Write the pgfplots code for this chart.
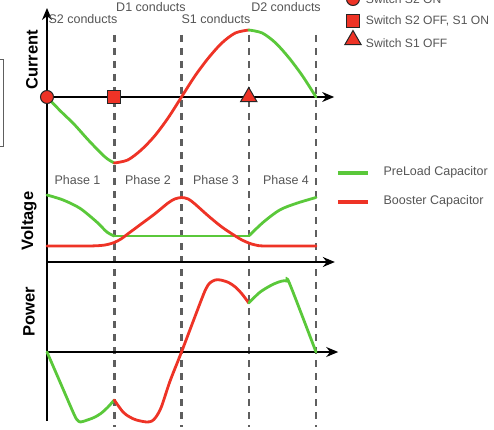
\documentclass[border=0pt]{standalone}
\usepackage{pgfplots}
\pgfplotsset{compat=1.18}
\usepackage{fontspec}
\setmainfont{Liberation Sans}
\usetikzlibrary{arrows.meta}
\definecolor{cgreen}{HTML}{5AC83A}
\definecolor{cred}{HTML}{EE3326}
\definecolor{cgray}{HTML}{5E5E5E}
\definecolor{ctext}{HTML}{555555}
\tikzset{lbl/.style={text=ctext, font=\fontsize{12.5}{14}\selectfont},
  lbls/.style={text=ctext, font=\fontsize{12.1}{14}\selectfont, inner sep=0pt},
  ylab/.style={rotate=90, font=\bfseries\fontsize{16.5}{18}\selectfont}}
\begin{document}
\begin{tikzpicture}
\useasboundingbox (0pt,0pt) rectangle (494pt,429pt);
\clip (0pt,0pt) rectangle (494pt,429pt);
\begin{axis}[at={(0pt,0pt)}, anchor=south west, scale only axis,
  width=494pt, height=429pt,
  xmin=-0.69888, xmax=6.64684, ymin=0, ymax=429,
  hide axis, clip=false]
% dashed phase separators
\addplot[cgray, line width=2.5pt, dash pattern=on 7pt off 6pt] coordinates {(1,394) (1,2)};
\addplot[cgray, line width=2.5pt, dash pattern=on 7pt off 6pt] coordinates {(2,394) (2,2)};
\addplot[cgray, line width=2.5pt, dash pattern=on 7pt off 6pt] coordinates {(3,394) (3,2)};
\addplot[cgray, line width=2.5pt, dash pattern=on 7pt off 6pt] coordinates {(4,394) (4,2)};
% axes
\addplot[black, line width=1.4pt, -{Stealth[length=12pt,width=10pt]}] coordinates {(0,8) (0,421)};
\addplot[black, line width=1.4pt, -{Stealth[length=12pt,width=10pt]}] coordinates {(0,332) (4.27,332)};
\addplot[black, line width=1.4pt, -{Stealth[length=12pt,width=10pt]}] coordinates {(0,167) (4.28,167)};
\addplot[black, line width=1.4pt, -{Stealth[length=12pt,width=10pt]}] coordinates {(0,77) (4.33,77)};
% left box (cropped)
\addplot[cgray, line width=0.8pt] coordinates {(-0.8,370) (-0.654,370) (-0.654,283) (-0.8,283)};
% ---- current
\addplot[cgreen, line width=2.8pt, smooth, line cap=round] coordinates {
 (0,332) (0.2,318) (0.4,305) (0.6,290) (0.8,276) (0.9,270) (1,266)};
\addplot[cred, line width=2.8pt, smooth, line cap=round] coordinates {
 (1,266) (1.2,269) (1.4,279) (1.6,293) (1.8,311) (2,332) (2.2,353) (2.4,371) (2.6,386) (2.8,396) (3,399)};
\addplot[cgreen, line width=2.8pt, smooth, line cap=round] coordinates {
 (3,399) (3.2,396) (3.4,386) (3.6,371) (3.8,353) (4,332)};
% ---- voltage
\addplot[cgreen, line width=2.8pt, smooth, line cap=round] coordinates {
 (0,234) (0.24,229) (0.49,220.7) (0.74,207) (0.89,197) (1,193)};
\addplot[cgreen, line width=2.8pt] coordinates {(1,193) (3,193)};
\addplot[cgreen, line width=2.8pt, smooth, line cap=round] coordinates {
 (3,193) (3.22,207) (3.46,219) (3.71,225.7) (4,231.5)};
\addplot[cred, line width=2.8pt, smooth, tension=0.5, line cap=round] coordinates {
 (0,183) (0.6,183) (0.8,183.5) (0.9,184.5) (1,186.5) (1.1,190) (1.2,195) (1.4,205) (1.6,215) (1.8,226) (1.9,230) (2,231.5)
 (2.1,230) (2.2,225) (2.4,213) (2.6,202) (2.8,193) (2.9,189) (3,186) (3.1,184) (3.25,183) (4,183)};
% ---- power
\addplot[cgreen, line width=2.8pt, smooth, tension=0.5, line cap=round] coordinates {
 (0,77) (0.2,46) (0.4,15) (0.45,9) (0.5,7) (0.6,9) (0.7,11.5) (0.8,15.5) (0.9,21.5) (1,29)};
\addplot[cred, line width=2.8pt, smooth, tension=0.5, line cap=round] coordinates {
 (1,29) (1.13,17) (1.23,12) (1.33,9) (1.48,7) (1.56,8) (1.62,12) (1.7,22) (1.83,48) (2,77) (2.3,130) (2.37,141) (2.42,146)
 (2.5,149) (2.58,149) (2.7,146.5) (2.8,142) (2.9,135) (3,126)};
\addplot[cgreen, line width=2.8pt, smooth, tension=0.5, line cap=round] coordinates {
 (3,126) (3.17,137) (3.37,145) (3.5,148) (3.56,148) (3.61,145) (4,77)};
% ---- switching markers
\addplot[only marks, mark=*, mark size=6.5pt, mark options={fill=cred, draw=black!85, line width=1pt}] coordinates {(0,332) (4.55,430)};
\addplot[only marks, mark=square*, mark size=6.5pt, mark options={fill=cred, draw=black!85, line width=1pt}] coordinates {(1,332) (4.55,408)};
\addplot[only marks, mark=triangle*, mark size=9.5pt, mark options={fill=cred, draw=black!85, line width=1pt}] coordinates {(3,332) (4.55,389)};
% ---- legend lines
\addplot[cgreen, line width=3.5pt] coordinates {(4.327,256) (4.773,256)};
\addplot[cred, line width=3.5pt] coordinates {(4.327,227) (4.773,227)};
% ---- texts
\node[lbls, anchor=west] at (axis cs:4.74,430) {Switch S2 ON};
\node[lbls, anchor=west] at (axis cs:4.74,408) {Switch S2 OFF, S1 ON};
\node[lbls, anchor=west] at (axis cs:4.74,386) {Switch S1 OFF};
\node[lbl, anchor=west] at (axis cs:4.952,257) {PreLoad Capacitor};
\node[lbl, anchor=west] at (axis cs:4.952,228) {Booster Capacitor};
\node[lbl] at (axis cs:0.535,410) {S2 conducts};
\node[lbl] at (axis cs:1.546,421.5) {D1 conducts};
\node[lbl] at (axis cs:2.513,410) {S1 conducts};
\node[lbl] at (axis cs:3.554,421.5) {D2 conducts};
\node[lbl] at (axis cs:0.454,249) {Phase 1};
\node[lbl] at (axis cs:1.502,249) {Phase 2};
\node[lbl] at (axis cs:2.513,249) {Phase 3};
\node[lbl] at (axis cs:3.554,249) {Phase 4};
\node[ylab] at (axis cs:-0.223,369) {Current};
\node[ylab] at (axis cs:-0.268,208) {Voltage};
\node[ylab] at (axis cs:-0.268,117) {Power};
\end{axis}
\end{tikzpicture}
\end{document}
